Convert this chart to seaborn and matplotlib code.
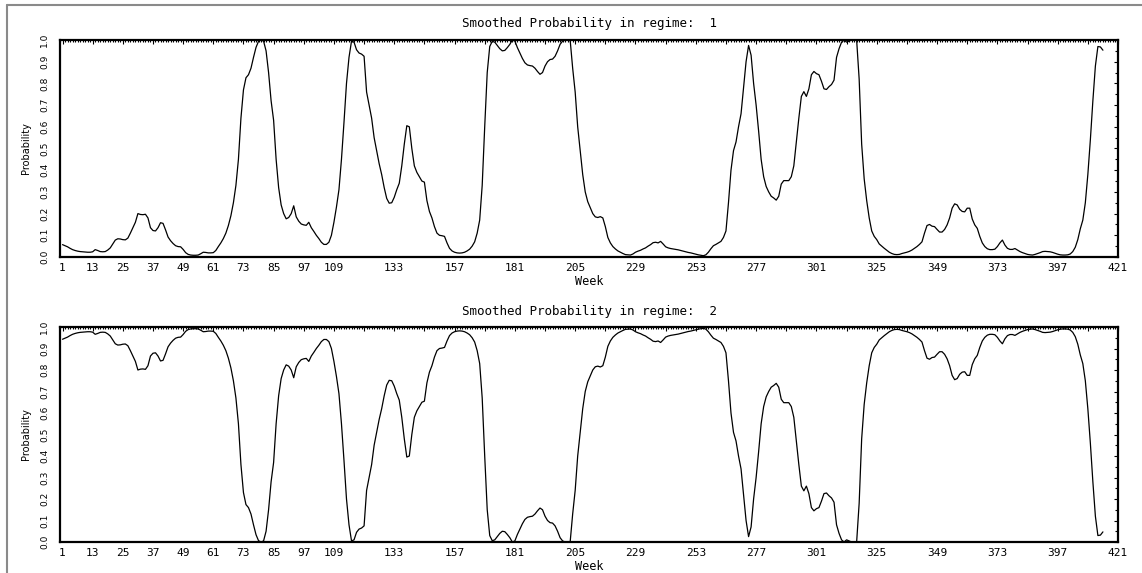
import numpy as np
import pandas as pd
import matplotlib

matplotlib.use("Agg")
import matplotlib.pyplot as plt
from matplotlib.lines import Line2D
import seaborn as sns

sns.set_theme(style="white")
plt.rcParams["font.family"] = ["DejaVu Sans"]
plt.rcParams["text.color"] = "black"
plt.rcParams["axes.labelcolor"] = "black"
plt.rcParams["xtick.color"] = "black"
plt.rcParams["ytick.color"] = "black"

# smoothed probability of regime 1, weeks 1..415
REGIME1 = [
    0.057, 0.052, 0.047, 0.040, 0.034, 0.030, 0.027, 0.025, 0.024, 0.023,
    0.022, 0.022, 0.024, 0.034, 0.030, 0.025, 0.024, 0.025, 0.032, 0.042,
    0.060, 0.078, 0.084, 0.083, 0.080, 0.079, 0.087, 0.110, 0.135, 0.160,
    0.200, 0.196, 0.195, 0.197, 0.180, 0.135, 0.122, 0.120, 0.135, 0.158,
    0.155, 0.125, 0.092, 0.075, 0.062, 0.052, 0.048, 0.047, 0.035, 0.020,
    0.012, 0.009, 0.008, 0.008, 0.009, 0.015, 0.022, 0.021, 0.019, 0.019,
    0.020, 0.030, 0.048, 0.065, 0.085, 0.110, 0.145, 0.190, 0.250, 0.330,
    0.450, 0.640, 0.770, 0.826, 0.840, 0.870, 0.920, 0.966, 0.994, 1.000,
    0.995, 0.950, 0.850, 0.720, 0.630, 0.450, 0.320, 0.240, 0.200, 0.176,
    0.182, 0.200, 0.236, 0.185, 0.165, 0.152, 0.148, 0.146, 0.160, 0.135,
    0.118, 0.100, 0.085, 0.068, 0.058, 0.058, 0.068, 0.100, 0.160, 0.230,
    0.310, 0.450, 0.620, 0.800, 0.920, 0.995, 0.990, 0.955, 0.940, 0.935,
    0.925, 0.760, 0.700, 0.640, 0.550, 0.490, 0.430, 0.380, 0.320, 0.270,
    0.248, 0.250, 0.275, 0.310, 0.340, 0.420, 0.520, 0.605, 0.600, 0.500,
    0.420, 0.390, 0.370, 0.350, 0.345, 0.260, 0.210, 0.180, 0.140, 0.110,
    0.100, 0.098, 0.095, 0.065, 0.040, 0.028, 0.022, 0.019, 0.018, 0.019,
    0.022, 0.028, 0.036, 0.050, 0.070, 0.110, 0.170, 0.330, 0.600, 0.850,
    0.970, 0.994, 0.990, 0.975, 0.960, 0.950, 0.952, 0.965, 0.980, 1.000,
    0.995, 0.965, 0.940, 0.915, 0.895, 0.885, 0.882, 0.880, 0.870, 0.855,
    0.842, 0.850, 0.880, 0.900, 0.910, 0.912, 0.925, 0.950, 0.980, 0.995,
    1.000, 1.000, 1.000, 0.870, 0.760, 0.600, 0.490, 0.380, 0.300, 0.255,
    0.228, 0.200, 0.185, 0.182, 0.186, 0.180, 0.140, 0.090, 0.065, 0.048,
    0.037, 0.028, 0.022, 0.016, 0.011, 0.010, 0.009, 0.014, 0.022, 0.027,
    0.031, 0.037, 0.042, 0.050, 0.057, 0.066, 0.068, 0.065, 0.072, 0.060,
    0.047, 0.042, 0.039, 0.037, 0.035, 0.033, 0.030, 0.027, 0.024, 0.021,
    0.019, 0.016, 0.013, 0.010, 0.008, 0.006, 0.010, 0.022, 0.038, 0.052,
    0.058, 0.065, 0.072, 0.090, 0.120, 0.250, 0.400, 0.490, 0.530, 0.600,
    0.660, 0.780, 0.900, 0.975, 0.930, 0.800, 0.700, 0.580, 0.450, 0.370,
    0.325, 0.300, 0.280, 0.272, 0.262, 0.280, 0.336, 0.352, 0.352, 0.352,
    0.370, 0.420, 0.530, 0.640, 0.740, 0.762, 0.740, 0.775, 0.840, 0.855,
    0.845, 0.840, 0.810, 0.775, 0.772, 0.785, 0.795, 0.815, 0.920, 0.960,
    0.990, 1.000, 0.990, 0.995, 1.000, 1.000, 1.000, 0.820, 0.520, 0.360,
    0.260, 0.180, 0.120, 0.095, 0.080, 0.060, 0.050, 0.040, 0.031, 0.022,
    0.016, 0.012, 0.011, 0.012, 0.016, 0.019, 0.022, 0.026, 0.032, 0.040,
    0.048, 0.058, 0.070, 0.110, 0.145, 0.150, 0.142, 0.140, 0.127, 0.115,
    0.115, 0.127, 0.148, 0.180, 0.225, 0.245, 0.240, 0.220, 0.210, 0.208,
    0.225, 0.225, 0.175, 0.148, 0.132, 0.095, 0.065, 0.048, 0.038, 0.034,
    0.034, 0.036, 0.048, 0.065, 0.078, 0.055, 0.040, 0.035, 0.035, 0.039,
    0.032, 0.025, 0.020, 0.016, 0.012, 0.010, 0.009, 0.012, 0.016, 0.020,
    0.025, 0.026, 0.025, 0.024, 0.021, 0.017, 0.013, 0.010, 0.009, 0.009,
    0.010, 0.014, 0.025, 0.045, 0.080, 0.130, 0.170, 0.250, 0.380, 0.540,
    0.720, 0.880, 0.970, 0.968, 0.953,
]
WEEKS = np.arange(1, len(REGIME1) + 1)

XTICK_WEEKS = [1, 13, 25, 37, 49, 61, 73, 85, 97, 109, 121, 133, 145, 157,
               169, 181, 193, 205, 217, 229, 241, 253, 265, 277, 289, 301,
               313, 325, 337, 349, 361, 373, 385, 397, 409, 421]
# only every other tick gets a label after 109 in the original
XTICK_LABELS = ["1", "13", "25", "37", "49", "61", "73", "85", "97", "109",
                "", "133", "", "157", "", "181", "", "205", "", "229", "",
                "253", "", "277", "", "301", "", "325", "", "349", "", "373",
                "", "397", "", "421"]
YTICKS = [0.0, 0.1, 0.2, 0.3, 0.4, 0.5, 0.6, 0.7, 0.8, 0.9, 1.0]
YTICK_LABELS = ["0.0", "0.1", "0.2", "0.3", "0.4", "0.5", "0.6", "0.7",
                "0.8", "0.9", "1.0"]

p1 = np.array(REGIME1)
df = pd.DataFrame({"Week": WEEKS, "regime1": p1, "regime2": 1.0 - p1})

WIDE = "DejaVu Sans Mono"  # stands in for the wide plotter font of the original

W, H = 1142, 573
fig = plt.figure(figsize=(W / 100, H / 100), dpi=100)
fig.patch.set_facecolor("white")

# thin gray page frame
fig.add_artist(Line2D([7 / W, 7 / W], [0, 1 - 5 / H], color="#8a8a8a", lw=1.5,
                      transform=fig.transFigure))
fig.add_artist(Line2D([7 / W, 1], [1 - 5 / H, 1 - 5 / H], color="#8a8a8a", lw=1.5,
                      transform=fig.transFigure))

panels = [
    ("regime1", [60 / W, 1 - 257 / H, 1058 / W, 217 / H], "1"),
    ("regime2", [60 / W, 1 - 542 / H, 1058 / W, 215 / H], "2"),
]

for col, rect, name in panels:
    ax = fig.add_axes(rect)
    sns.lineplot(data=df, x="Week", y=col, ax=ax, color="black", linewidth=0.9)

    ax.set_xlim(0, 421)
    ax.set_ylim(0, 1.0)
    ax.set_xticks(XTICK_WEEKS)
    ax.set_xticklabels(XTICK_LABELS, fontsize=8, family=WIDE)
    ax.set_xticks(np.arange(0, 422), minor=True)
    ax.set_yticks(YTICKS)
    ax.set_yticklabels(YTICK_LABELS, fontsize=6.5, rotation=90, va="center")
    ax.set_yticks(np.arange(0.05, 1.0, 0.1), minor=True)

    ax.tick_params(which="both", direction="in", top=True, right=True,
                   color="black", width=0.8)
    ax.tick_params(axis="x", which="major", length=3, pad=4)
    ax.tick_params(axis="x", which="minor", length=1.6)
    ax.tick_params(axis="y", which="major", length=3, pad=8)
    ax.tick_params(axis="y", which="minor", length=2.5)

    for sp in ax.spines.values():
        sp.set_linewidth(1.6)
        sp.set_color("black")

    ax.set_title(f"Smoothed Probability in regime:  {name}", fontsize=9,
                 family=WIDE, pad=9)
    ax.set_xlabel("Week", fontsize=8.5, family=WIDE)
    ax.set_ylabel("Probability", fontsize=7)
    ax.xaxis.set_label_coords(0.5, -0.085)
    ax.yaxis.set_label_coords(-0.027, 0.5)

fig.savefig("out.png", dpi=100)
